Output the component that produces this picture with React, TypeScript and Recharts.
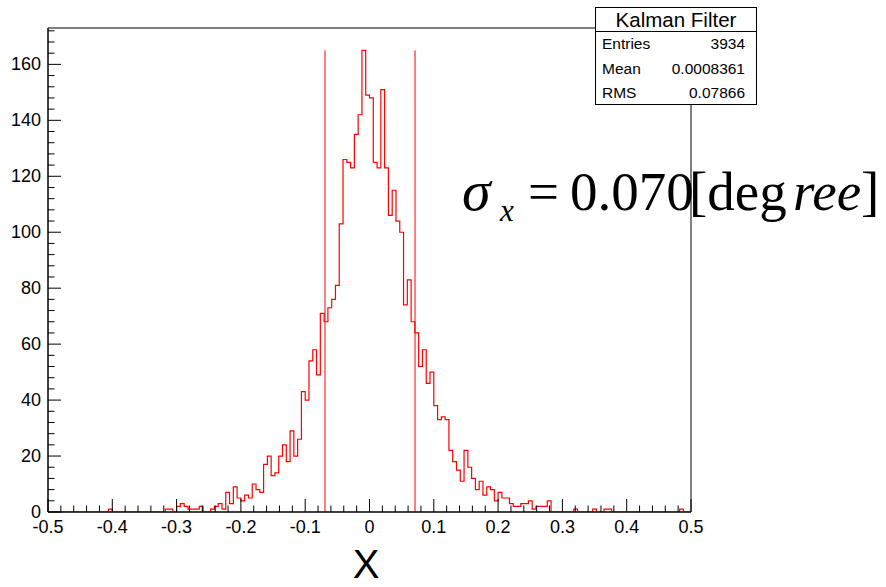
import React from "react";
import {
  ComposedChart,
  Line,
  XAxis,
  YAxis,
  ReferenceLine,
  ReferenceArea,
} from "recharts";

// 170 bins over [-0.5, 0.5], counts
const binCounts = [
  0, 0, 0, 0, 0, 0, 0, 0, 0, 0,
  0, 0, 0, 0, 0, 0, 1, 0, 0, 0,
  0, 0, 0, 0, 0, 0, 0, 0, 0, 0,
  0, 1, 1, 0, 2, 3, 2, 1, 1, 1,
  2, 0, 0, 1, 2, 3, 1, 7, 3, 9,
  5, 4, 6, 5, 10, 8, 7, 17, 20, 13,
  14, 20, 24, 18, 29, 20, 26, 43, 40, 54,
  58, 49, 71, 68, 73, 76, 81, 103, 126, 125,
  123, 135, 142, 165, 149, 148, 125, 123, 151, 123,
  106, 115, 104, 100, 74, 83, 68, 64, 52, 58,
  46, 50, 38, 33, 34, 33, 22, 18, 15, 11,
  22, 16, 12, 8, 11, 6, 9, 8, 4, 7,
  5, 5, 3, 2, 2, 3, 3, 4, 1, 2,
  2, 2, 4, 0, 0, 0, 0, 0, 0, 1,
  0, 0, 0, 0, 1, 0, 0, 1, 1, 0,
  0, 0, 0, 0, 0, 0, 0, 0, 0, 0,
  0, 0, 0, 0, 0, 0, 0, 1, 0, 0,
];

const X_MIN = -0.5;
const X_MAX = 0.5;
const Y_MAX = 173;

const sigmaLines = [-0.0692, 0.0708];
const sigmaTop = 165;

const statLabels = ["Entries", "Mean", "RMS"];
const statValues = ["3934", "0.0008361", "0.07866"];

const xTicks = Array.from({ length: 51 }, (_, i) => X_MIN + i * 0.02);
const yTicks = Array.from({ length: 44 }, (_, i) => i * 4);

const binWidth = (X_MAX - X_MIN) / binCounts.length;
const histData = binCounts
  .map((c, i) => ({ x: X_MIN + i * binWidth, y: c }))
  .concat([{ x: X_MAX, y: binCounts[binCounts.length - 1] }]);

const SANS = "'Liberation Sans', Arial, sans-serif";
const SERIF = "'Liberation Serif', 'Times New Roman', serif";

const isMajorX = (v: number) => Math.abs(v * 10 - Math.round(v * 10)) < 1e-6;

function XTick({ x, y, payload }: any) {
  const v = payload.value as number;
  const major = isMajorX(v);
  const r = Math.round(v * 10) / 10;
  return (
    <g>
      <line x1={x} x2={x} y1={y} y2={y - (major ? 13 : 6.5)} stroke="#000" />
      {major && (
        <text x={x} y={y + 21} textAnchor="middle" fontSize={18} fontFamily={SANS} fill="#000">
          {r === 0 ? "0" : String(r)}
        </text>
      )}
    </g>
  );
}

function YTick({ x, y, payload }: any) {
  const v = payload.value as number;
  const major = v % 20 === 0;
  return (
    <g>
      <line x1={x} x2={x + (major ? 13 : 6.5)} y1={y} y2={y} stroke="#000" />
      {major && (
        <text x={x - 7} y={y + 6} textAnchor="end" fontSize={18} fontFamily={SANS} fill="#000">
          {v}
        </text>
      )}
    </g>
  );
}

export default function App() {
  return (
    <div style={{ position: "absolute", left: 0, top: 0, width: 886, height: 587, background: "#fff" }}>
      <ComposedChart
        width={886}
        height={587}
        data={histData}
        margin={{ top: 28, right: 195, bottom: 35, left: 8 }}
      >
        <XAxis
          dataKey="x"
          type="number"
          domain={[X_MIN, X_MAX]}
          ticks={xTicks}
          interval={0}
          height={40}
          tickSize={0}
          tickMargin={0}
          tickLine={false}
          axisLine={{ stroke: "#000" }}
          tick={<XTick />}
          allowDataOverflow
        />
        <YAxis
          type="number"
          domain={[0, Y_MAX]}
          ticks={yTicks}
          interval={0}
          width={40}
          tickSize={0}
          tickMargin={0}
          tickLine={false}
          axisLine={{ stroke: "#000" }}
          tick={<YTick />}
          allowDataOverflow
        />
        <ReferenceArea
          x1={X_MIN}
          x2={X_MAX}
          y1={0}
          y2={Y_MAX}
          fill="none"
          fillOpacity={0}
          stroke="#000"
          strokeOpacity={1}
          strokeWidth={1}
        />
        <Line
          dataKey="y"
          type="stepAfter"
          stroke="#ff0000"
          strokeWidth={1.2}
          dot={false}
          activeDot={false}
          isAnimationActive={false}
        />
        {sigmaLines.map((sx) => (
          <ReferenceLine
            key={sx}
            segment={[
              { x: sx, y: 0 },
              { x: sx, y: sigmaTop },
            ]}
            stroke="#ff0000"
            strokeWidth={1}
          />
        ))}
      </ComposedChart>
      <svg
        width={886}
        height={587}
        style={{ position: "absolute", left: 0, top: 0, pointerEvents: "none" }}
      >
        <rect x={595.5} y={7.5} width={161} height={97} fill="#fff" stroke="#000" />
        <line x1={595.5} x2={756.5} y1={31.5} y2={31.5} stroke="#000" />
        <text x={676} y={27} textAnchor="middle" fontSize={20.5} fontFamily={SANS} fill="#000">
          Kalman Filter
        </text>
        {statLabels.map((l, i) => (
          <g key={l}>
            <text x={602} y={49 + i * 24.5} fontSize={15.5} fontFamily={SANS} fill="#000">
              {l}
            </text>
            <text x={745} y={49 + i * 24.5} textAnchor="end" fontSize={15.5} fontFamily={SANS} fill="#000">
              {statValues[i]}
            </text>
          </g>
        ))}
        <g fontFamily={SERIF} fontSize={55} fill="#000">
          <text x={462} y={210} fontStyle="italic" fontSize={58}>σ</text>
          <text x={500} y={221} fontStyle="italic" fontSize={31}>x</text>
          <text x={528} y={210}>=</text>
          <text x={570} y={210}>0.070</text>
          <text x={689} y={210}>[deg</text>
          <text x={793} y={210} fontStyle="italic">ree</text>
          <text x={861} y={210}>]</text>
        </g>
        <text x={366} y={578} textAnchor="middle" fontSize={40} fontFamily={SANS} fill="#000">
          X
        </text>
      </svg>
    </div>
  );
}
